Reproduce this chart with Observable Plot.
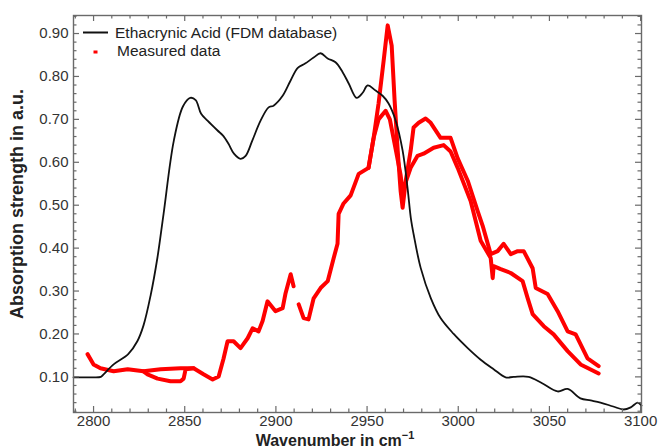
<!DOCTYPE html>
<html><head><meta charset="utf-8">
<script src="https://cdn.jsdelivr.net/npm/d3@7"></script>
<script src="https://cdn.jsdelivr.net/npm/@observablehq/plot@0.6"></script>
<style>body{margin:0;background:#fff;}</style>
</head><body><div id="chart"></div>
<script>
// Reference spectrum: Ethacrynic Acid (FDM database)
const refX = [2789, 2798, 2804, 2805.5, 2811, 2819, 2824, 2827.4, 2831.3, 2835, 2838.4, 2844, 2849, 2853, 2856, 2859, 2862.5, 2868, 2871, 2874, 2877, 2880.6, 2883.4, 2887, 2891.6, 2896, 2898.7, 2903.7, 2908, 2912, 2916, 2920.7, 2924.5, 2928.4, 2932.7, 2936.6, 2940, 2944.3, 2947.6, 2950.3, 2954.7, 2958.5, 2961.8, 2965.7, 2969.5, 2972.2, 2974, 2975.5, 2979.4, 2985, 2990.3, 2997.5, 3005.2, 3012.3, 3019.4, 3026, 3030.4, 3038.6, 3046, 3054.5, 3060, 3067, 3072.6, 3078, 3085, 3090.7, 3094.6, 3098.4, 3100.5];
const refY = [0.099, 0.099, 0.100, 0.106, 0.129, 0.153, 0.183, 0.22, 0.29, 0.377, 0.48, 0.65, 0.73, 0.75, 0.745, 0.713, 0.697, 0.674, 0.662, 0.643, 0.62, 0.608, 0.615, 0.65, 0.697, 0.728, 0.732, 0.755, 0.79, 0.82, 0.83, 0.844, 0.854, 0.842, 0.833, 0.81, 0.783, 0.75, 0.762, 0.779, 0.767, 0.755, 0.737, 0.697, 0.627, 0.54, 0.47, 0.433, 0.354, 0.283, 0.237, 0.20, 0.167, 0.14, 0.118, 0.099, 0.10, 0.10, 0.085, 0.066, 0.072, 0.05, 0.045, 0.04, 0.031, 0.024, 0.029, 0.04, 0.033];

// Measured data, pass A (null = gap in the data)
const measAX = [2796.7, 2800, 2803.8, 2811, 2818.7, 2827.4, 2836.8, 2847.7, 2854.9, 2860.3, 2865.3, 2868.6, 2871.3, 2873.5, 2876.8, 2880.6, 2884.5, 2887.2, 2890.5, 2892.7, 2895.4, 2899.8, 2903.7, 2905.3, 2908.1, 2909.7, 2911, 2912.5, 2915.2, 2917.9, 2920.7, 2924.5, 2928.4, 2931.7, 2933.8, 2934.4, 2937.1, 2941, 2945.4, 2950.8, 2953.6, 2956.3, 2959.1, 2961.3, 2963.5, 2965.1, 2966.8, 2968.4, 2969.5, 2971.2, 2973.9, 2975.5, 2978.3, 2982.1, 2984.9, 2990.3, 2995.8, 2999.7, 3005.2, 3010.6, 3013.4, 3017.8, 3021.6, 3024.9, 3028.8, 3032.6, 3035.9, 3040.8, 3042.5, 3049, 3054.5, 3060, 3064.4, 3070.9, 3077];
const measAY = [0.153, 0.129, 0.120, 0.113, 0.118, 0.113, 0.118, 0.120, 0.120, 0.106, 0.094, 0.101, 0.143, 0.183, 0.183, 0.167, 0.190, 0.213, 0.206, 0.230, 0.276, 0.253, 0.260, 0.295, 0.339, 0.311, null, 0.269, 0.237, 0.234, 0.283, 0.307, 0.323, 0.377, 0.410, 0.480, 0.504, 0.523, 0.573, 0.587, 0.657, 0.737, 0.837, 0.919, 0.872, 0.744, 0.627, 0.533, 0.494, 0.557, 0.627, 0.681, 0.692, 0.702, 0.692, 0.657, 0.657, 0.609, 0.557, 0.487, 0.452, 0.386, 0.393, 0.410, 0.386, 0.393, 0.393, 0.353, 0.307, 0.293, 0.253, 0.206, 0.199, 0.143, 0.125];

// Measured data, pass B (where it separates from pass A)
const measB1X = [2827.4, 2829.6, 2835.1, 2842.2, 2847.7, 2849.4, 2850.5, 2854.9];
const measB1Y = [0.113, 0.106, 0.096, 0.090, 0.090, 0.096, 0.118, 0.120];
const measB2X = [2950.8, 2953.6, 2956.3, 2960.2, 2962.5, 2965.7, 2968.4, 2969.5, 2973.9, 2977.7, 2981, 2986.5, 2992, 2995.8, 2999.7, 3006.8, 3012.3, 3017.8, 3018.9, 3019.4, 3023.3, 3028.8, 3035.3, 3038.1, 3040.8, 3046.9, 3052.3, 3060, 3067.1, 3077];
const measB2Y = [0.587, 0.657, 0.700, 0.720, 0.700, 0.630, 0.570, 0.533, 0.587, 0.615, 0.620, 0.634, 0.640, 0.625, 0.587, 0.510, 0.417, 0.377, 0.330, 0.358, 0.351, 0.342, 0.323, 0.283, 0.246, 0.218, 0.199, 0.160, 0.129, 0.108];

const xTickLabels = [2800, 2850, 2900, 2950, 3000, 3050, 3100];
const yTickLabels = [0.10, 0.20, 0.30, 0.40, 0.50, 0.60, 0.70, 0.80, 0.90];

const legendLabels = ["Ethacrynic Acid (FDM database)", "Measured data"];

// ---- layout
const W = 658, H = 447, mL = 73, mR = 17, mT = 15, mB = 35;
const xDom = [2789, 3100.5], yDom = [0.017, 0.942];
const innerW = W - mL - mR, innerH = H - mT - mB;
const dxPx = (xDom[1] - xDom[0]) / innerW;
const dyPx = (yDom[1] - yDom[0]) / innerH;

const ref = refX.map((x, i) => ({x, y: refY[i]}));
const meas = [].concat(
  measAX.map((x, i) => ({x, y: measAY[i], s: "A"})),
  measB1X.map((x, i) => ({x, y: measB1Y[i], s: "B1"})),
  measB2X.map((x, i) => ({x, y: measB2Y[i], s: "B2"}))
);

const xMinor = d3.range(2790, 3101, 10).filter(v => v % 50 !== 0);
const yMinor = d3.range(2, 95, 2).map(v => v / 100).filter(v => Math.round(v * 100) % 10 !== 0);

const tc = "#6a6a6a";
const maj = 6, mnr = 3.5;

const svg = Plot.plot({
  width: W, height: H,
  marginLeft: mL, marginRight: mR, marginTop: mT, marginBottom: mB,
  style: {fontFamily: "'Liberation Sans', Arial, sans-serif", fontSize: "15px", background: "#fff", overflow: "visible"},
  x: {domain: xDom},
  y: {domain: yDom},
  marks: [
    Plot.line(meas, {x: "x", y: "y", z: "s", stroke: "#ff0000", strokeWidth: 4, strokeLinejoin: "round", strokeLinecap: "round", curve: "linear"}),
    Plot.line(ref, {x: "x", y: "y", stroke: "#111", strokeWidth: 1.8, curve: "catmull-rom"}),
    // inward ticks on all four sides
    Plot.ruleX(xTickLabels, {y1: yDom[0], y2: yDom[0] + maj * dyPx, stroke: tc, strokeWidth: 1.2}),
    Plot.ruleX(xMinor, {y1: yDom[0], y2: yDom[0] + mnr * dyPx, stroke: tc, strokeWidth: 1.2}),
    Plot.ruleX(xTickLabels, {y1: yDom[1], y2: yDom[1] - maj * dyPx, stroke: tc, strokeWidth: 1.2}),
    Plot.ruleX(xMinor, {y1: yDom[1], y2: yDom[1] - mnr * dyPx, stroke: tc, strokeWidth: 1.2}),
    Plot.ruleY(yTickLabels, {x1: xDom[0], x2: xDom[0] + maj * dxPx, stroke: tc, strokeWidth: 1.2}),
    Plot.ruleY(yMinor, {x1: xDom[0], x2: xDom[0] + mnr * dxPx, stroke: tc, strokeWidth: 1.2}),
    Plot.ruleY(yTickLabels, {x1: xDom[1], x2: xDom[1] - maj * dxPx, stroke: tc, strokeWidth: 1.2}),
    Plot.ruleY(yMinor, {x1: xDom[1], x2: xDom[1] - mnr * dxPx, stroke: tc, strokeWidth: 1.2}),
    Plot.frame({stroke: tc, strokeWidth: 1.4}),
    Plot.axisX(xTickLabels, {tickSize: 0, tickPadding: 3, tickFormat: d => String(d), fontSize: 15, fill: "#333", label: null}),
    Plot.axisY(yTickLabels, {tickSize: 0, tickPadding: 5, tickFormat: d3.format(".2f"), fontSize: 15, fill: "#333", label: null})
  ]
});

const s = d3.select(svg);
// axis titles
const xt = s.append("text")
  .attr("x", 335).attr("y", 445.5).attr("text-anchor", "middle")
  .attr("font-weight", "bold").attr("font-size", 16).attr("fill", "#222")
  .text("Wavenumber in cm");
xt.append("tspan").attr("dy", -7).attr("font-size", 11).text("\u22121");

s.append("text")
  .attr("transform", "translate(23,204) rotate(-90)")
  .attr("text-anchor", "middle").attr("font-weight", "bold").attr("font-size", 18).attr("fill", "#222")
  .text("Absorption strength in a.u.");

// legend
s.append("line").attr("x1", 83).attr("x2", 108).attr("y1", 32.5).attr("y2", 32.5)
  .attr("stroke", "#111").attr("stroke-width", 2);
s.append("text").attr("x", 115).attr("y", 38).attr("text-anchor", "start")
  .attr("font-size", 15.5).attr("fill", "#222").text(legendLabels[0]);
s.append("rect").attr("x", 93.5).attr("y", 50.5).attr("width", 4).attr("height", 3).attr("fill", "#ff0000");
s.append("text").attr("x", 117).attr("y", 56).attr("text-anchor", "start")
  .attr("font-size", 15.5).attr("fill", "#222").text(legendLabels[1]);

document.getElementById("chart").appendChild(svg);
</script>
</body></html>
